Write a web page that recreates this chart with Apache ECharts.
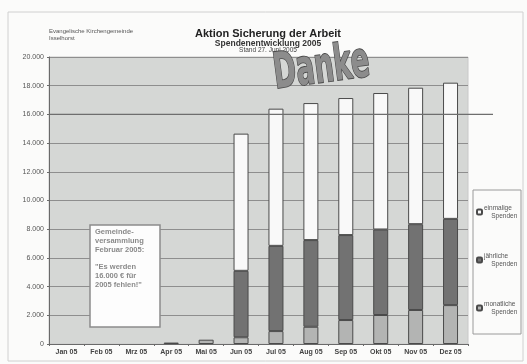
<!DOCTYPE html>
<html><head><meta charset="utf-8">
<script src="https://cdn.jsdelivr.net/npm/echarts@6/dist/echarts.min.js"></script>
<style>html,body{margin:0;padding:0;background:#fbfbfa;}#c{width:527px;height:364px;}</style>
</head><body><div id="c"></div>
<script>
const categories = ['Jan 05','Feb 05','Mrz 05','Apr 05','Mai 05','Jun 05','Jul 05','Aug 05','Sep 05','Okt 05','Nov 05','Dez 05'];
const monatliche = [null, null, null, 100, 300, 470, 900, 1200, 1670, 2020, 2370, 2710];
const jaehrliche = [null, null, null, null, null, 4630, 5940, 6040, 5920, 5960, 5980, 6010];
const einmalige  = [null, null, null, null, null, 9560, 9560, 9550, 9550, 9510, 9510, 9490];
const yTicks = [0, 2000, 4000, 6000, 8000, 10000, 12000, 14000, 16000, 18000, 20000];
const target = 16000;
const noteLines = ['Gemeinde-','versammlung','Februar 2005:','','"Es werden','16.000 € für','2005 fehlen!"'];

const chart = echarts.init(document.getElementById('c'));
const fmt = v => v === 0 ? '0' : String(v).replace(/\B(?=(\d{3})+(?!\d))/g, '.');
const barBase = {type:'bar', stack:'s', barWidth:15, itemStyle:{borderColor:'#4a4a4a', borderWidth:1}};
const option = {
  backgroundColor:'#fbfbfa',
  animation:false,
  grid:{left:49, right:59, top:57, bottom:20, show:true, backgroundColor:'#d5d7d5', borderColor:'#c8c8c8', borderWidth:1},
  xAxis:{type:'category', data:categories,
    axisLine:{lineStyle:{color:'#6a6a6a', width:1}},
    axisTick:{show:true, length:2, lineStyle:{color:'#6a6a6a'}},
    axisLabel:{fontSize:7, color:'#444', fontFamily:'Liberation Sans', fontWeight:'bold', margin:5}},
  yAxis:{type:'value', min:yTicks[0], max:yTicks[yTicks.length-1], interval:2000,
    axisLine:{show:true, lineStyle:{color:'#6a6a6a'}},
    axisTick:{show:true, length:2, lineStyle:{color:'#6a6a6a'}},
    splitLine:{lineStyle:{color:'#8e8e8e', width:1}},
    axisLabel:{fontSize:7, color:'#555', fontFamily:'Liberation Sans', margin:5, formatter:fmt}},
  legend:{orient:'vertical', left:471, top:199, itemWidth:5, itemHeight:5, itemGap:32,
    data:['einmalige Spenden','jährliche Spenden','monatliche Spenden'],
    textStyle:{fontSize:6.5, color:'#555', fontFamily:'Liberation Sans', lineHeight:8, padding:[0,0,0,-3]},
    formatter: n => n.replace(' Spenden','') + '\n    Spenden'},
  series:[
    Object.assign({name:'monatliche Spenden', data:monatliche, color:'#b3b4b3'}, barBase),
    Object.assign({name:'jährliche Spenden', data:jaehrliche, color:'#727272'}, barBase),
    Object.assign({name:'einmalige Spenden', data:einmalige, color:'#f9f9f9'}, barBase)
  ]
};
chart.setOption(option);

const ty = chart.convertToPixel({yAxisIndex:0}, target);
chart.setOption({graphic:[
  {type:'rect', z:-1, shape:{x:8, y:12, width:515, height:349}, style:{fill:'none', stroke:'#d0d0d0', lineWidth:1}},
  {type:'rect', shape:{x:473, y:190, width:48, height:144}, style:{fill:'#fbfbfa', stroke:'#9a9a9a', lineWidth:1}, z:-1},
  {type:'line', z:5, shape:{x1:49, y1:ty, x2:493, y2:ty}, style:{stroke:'#6e6e6e', lineWidth:1.2}},
  {type:'text', left:49, top:28, style:{text:'Evangelische Kirchengemeinde\nIsselhorst', fontSize:6, lineHeight:7, fill:'#555', fontFamily:'Liberation Sans'}},
  {type:'text', x:268, y:28, style:{text:'Aktion Sicherung der Arbeit', fontSize:11, fontWeight:'bold', fill:'#222', fontFamily:'Liberation Sans', align:'center'}},
  {type:'text', x:268, y:39, style:{text:'Spendenentwicklung 2005', fontSize:8.5, fontWeight:'bold', fill:'#333', fontFamily:'Liberation Sans', align:'center'}},
  {type:'text', x:268, y:47, style:{text:'Stand 27. Juni 2005', fontSize:6.5, fill:'#444', fontFamily:'Liberation Sans', align:'center'}},
  {type:'text', z:10, x:277, y:100, rotation:0.13, scaleX:0.92, scaleY:1.5,
    style:{text:'Danke', fontSize:33, fontWeight:'bold', fill:'#8c8c8c',
      stroke:'#4a4a4a', lineWidth:1.2,
      fontFamily:'Liberation Sans Narrow, DejaVu Sans Condensed, sans-serif', verticalAlign:'bottom',
      shadowColor:'rgba(0,0,0,0.45)', shadowBlur:3, shadowOffsetX:2, shadowOffsetY:2}},
  {type:'rect', z:10, shape:{x:90, y:225, width:70, height:102}, style:{fill:'#fdfdfd', stroke:'#8c8c8c', lineWidth:1.5}},
  {type:'text', z:11, x:95, y:228, style:{text:noteLines.join('\n'), fontSize:7.5, lineHeight:8.7, fontWeight:'bold', fill:'#8a8a8a', fontFamily:'Liberation Sans'}}
]});
</script></body></html>
